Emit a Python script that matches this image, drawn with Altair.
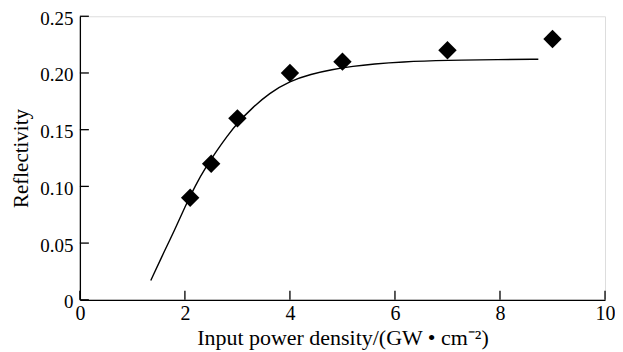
import altair as alt
import pandas as pd

# measured points
pt_x = [2.1, 2.5, 3.0, 4.0, 5.0, 7.0, 9.0]
pt_y = [0.09, 0.12, 0.16, 0.20, 0.21, 0.22, 0.23]

# fitted curve
cv_x = [1.35, 1.6, 1.8, 2.0, 2.2, 2.4, 2.6, 2.8, 3.0, 3.3, 3.6, 4.0, 4.4, 4.8, 5.2, 5.6, 6.1, 7.0, 8.0, 8.73]
cv_y = [0.017, 0.042, 0.061, 0.082, 0.101, 0.117, 0.131, 0.144, 0.156, 0.170, 0.182, 0.193, 0.199, 0.203, 0.206, 0.208, 0.2098, 0.2112, 0.2118, 0.2121]

x_ticks = [0, 2, 4, 6, 8, 10]
y_ticks = [0, 0.05, 0.10, 0.15, 0.20, 0.25]

W, H = 526, 284
FONT = "Liberation Serif"

xs = alt.Scale(domain=[0, 10], nice=False, zero=False)
ys = alt.Scale(domain=[0, 0.25], nice=False, zero=False)

pts = pd.DataFrame({"x": pt_x, "y": pt_y})
cv = pd.DataFrame({"x": cv_x, "y": cv_y})
xt = pd.DataFrame({"v": x_ticks})
yt = pd.DataFrame({"v": y_ticks})

x_axis = alt.Axis(values=x_ticks, title="Input power density/(GW \u2022 cm\u207b\u00b2)",
                  grid=False, ticks=False, domainColor="black", domainWidth=1.3,
                  labelFont=FONT, labelFontSize=20, labelColor="black", labelPadding=4,
                  titleFont=FONT, titleFontSize=22, titleFontWeight="normal", titleColor="black",
                  titlePadding=4, labelFlush=False)
y_axis = alt.Axis(values=y_ticks, title="Reflectivity",
                  labelExpr="datum.value == 0 ? '0' : format(datum.value, '.2f')",
                  grid=False, ticks=False, domainColor="black", domainWidth=1.3,
                  labelFont=FONT, labelFontSize=19, labelColor="black", labelPadding=7,
                  labelOffset=2,
                  titleFont=FONT, titleFontSize=21, titleFontWeight="normal", titleColor="black",
                  titlePadding=8, labelFlush=False)

curve = alt.Chart(cv).mark_line(color="black", strokeWidth=1.4, interpolate="basis").encode(
    x=alt.X("x:Q", scale=xs, axis=x_axis),
    y=alt.Y("y:Q", scale=ys, axis=y_axis),
)
points = alt.Chart(pts).mark_point(shape="diamond", filled=True, color="black", size=340, opacity=1).encode(
    x=alt.X("x:Q", scale=xs),
    y=alt.Y("y:Q", scale=ys),
)
xtick = alt.Chart(xt).mark_rule(color="black", strokeWidth=1.3).encode(
    x=alt.X("v:Q", scale=xs),
    y=alt.value(H),
    y2=alt.value(H - 9),
)
ytick = alt.Chart(yt).mark_rule(color="black", strokeWidth=1.3).encode(
    y=alt.Y("v:Q", scale=ys),
    x=alt.value(0),
    x2=alt.value(9),
)

chart = alt.layer(curve, xtick, ytick, points).properties(
    width=W, height=H,
    autosize=alt.AutoSizeParams(type="none"),
    padding={"left": 72, "top": 8, "right": 10, "bottom": 50},
).configure_view(stroke=None).configure(background="white")

chart.save("out.html", embed_options={"renderer": "svg", "actions": False})
